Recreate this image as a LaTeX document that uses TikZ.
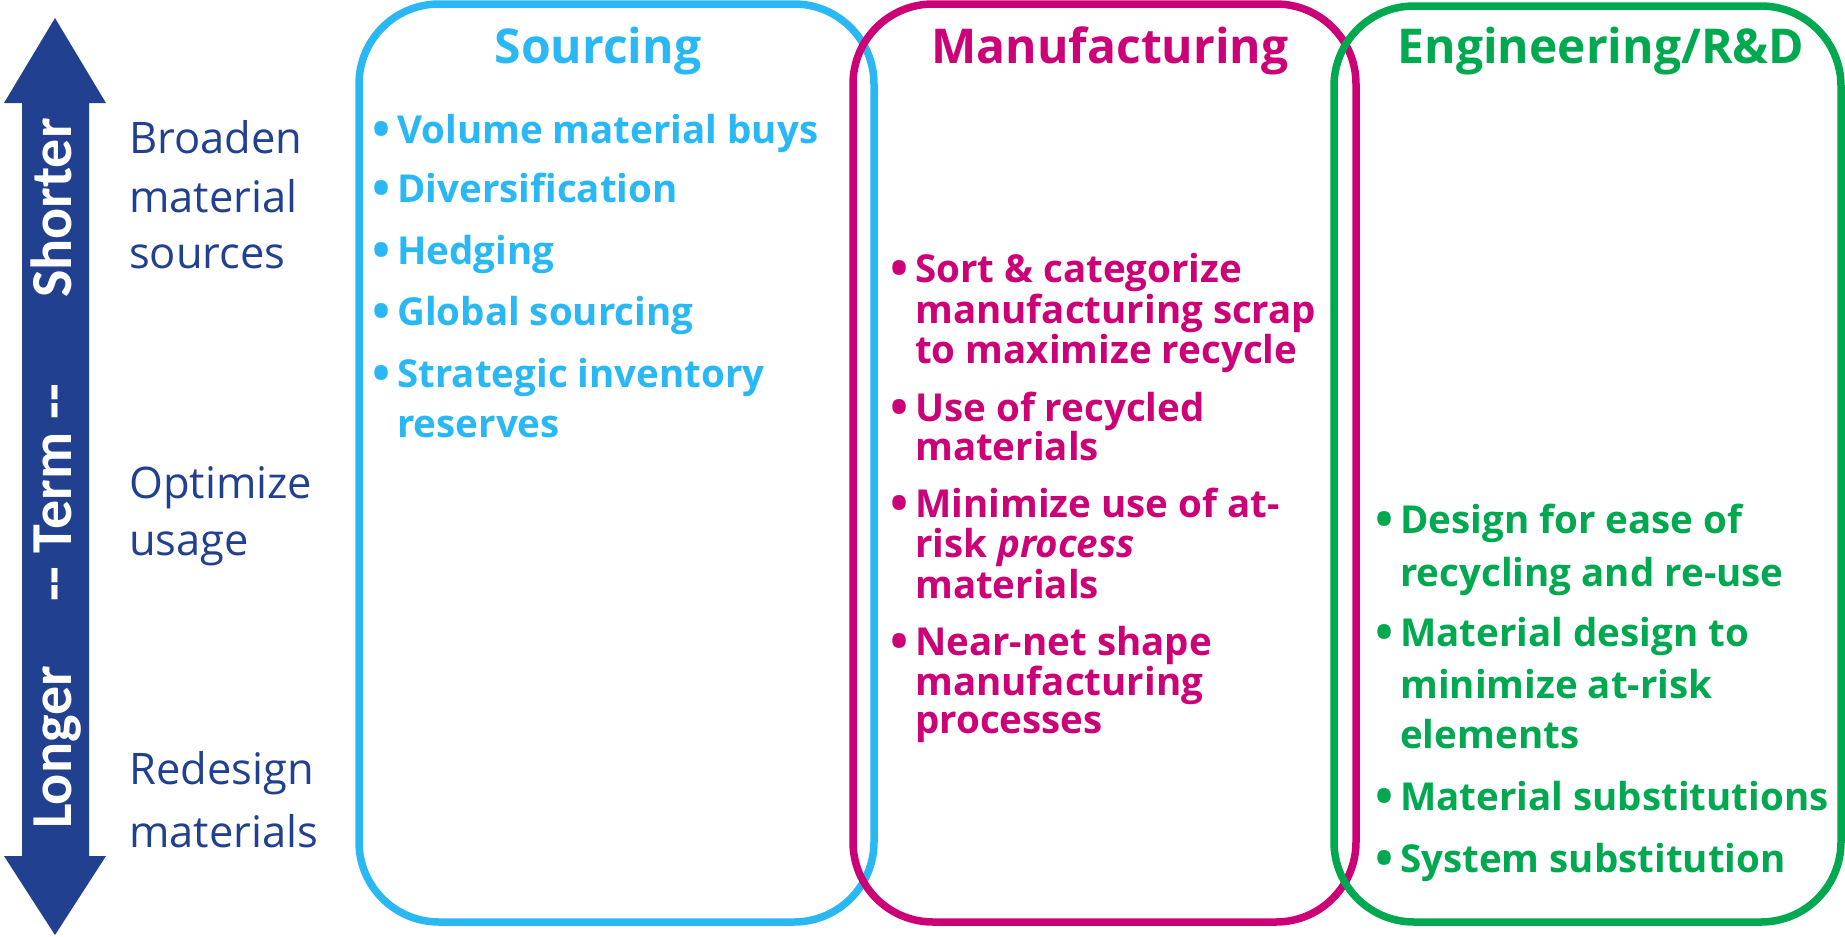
\documentclass[tikz,border=0pt]{standalone}
\usepackage{fontspec}
\setmainfont{Open Sans}
\newfontfamily\arrowfont{Carlito}
\definecolor{sblue}{RGB}{41,184,244}
\definecolor{mmag}{RGB}{204,0,119}
\definecolor{egreen}{RGB}{0,168,80}
\definecolor{dblue}{RGB}{33,64,143}
\tikzset{
  box/.style={line width=7.5pt, rounded corners=80pt},
  itemtext/.style={anchor=base west, inner sep=0pt, font=\fontsize{38.5}{38.5}\selectfont\bfseries},
  bul/.style={anchor=base, inner sep=0pt, yshift=-3pt, font=\fontsize{48}{48}\selectfont\bfseries},
  head/.style={anchor=base, inner sep=0pt, font=\fontsize{48}{48}\selectfont\bfseries},
  lab/.style={anchor=base west, inner sep=0pt, text=dblue, font=\fontsize{43.5}{43.5}\selectfont},
  arrtext/.style={rotate=90, anchor=base west, inner sep=0pt, text=white, font=\arrowfont\bfseries\fontsize{58}{58}\selectfont}
}
\begin{document}
\begin{tikzpicture}[x=1pt,y=-1pt]
\useasboundingbox (0,0) rectangle (1845,937);
% double arrow
\fill[dblue] (55,18) -- (106,103) -- (89,103) -- (89,856) -- (106,856) -- (55,935)
  -- (4,856) -- (22,856) -- (22,103) -- (4,103) -- cycle;
\node[arrtext] (longer) at (71,829) {Longer};
\node[arrtext] (term) at (71,602) {-\kern0pt- Term -\kern0pt-};
\node[arrtext] (shorter) at (71,298) {Shorter};
% left labels
\node[lab] (l1) at (129,153) {Broaden};
\node[lab] (l2) at (129,212) {material};
\node[lab] (l3) at (129,268) {sources};
\node[lab] (l4) at (129,498) {Optimize};
\node[lab] (l5) at (129,555) {usage};
\node[lab] (l6) at (129,784) {Redesign};
\node[lab] (l7) at (129,847) {materials};
% boxes
\draw[box, sblue] (359,4) rectangle (874,922);
\draw[box, mmag] (853,4) rectangle (1356,922);
\draw[box, egreen] (1334,6) rectangle (1841,922);
% headings
\node[head, text=sblue] (hs) at (598,63) {Sourcing};
\node[head, text=mmag] (hm) at (1110,63) {Manufacturing};
\node[head, text=egreen] (he) at (1601,63) {Engineering/R\&D};
% sourcing items
\begin{scope}[every node/.append style={text=sblue}]
\node[bul] (sb1) at (382,143) {•};
\node[itemtext] (s1) at (397,143) {Volume material buys};
\node[bul] (sb2) at (382,202) {•};
\node[itemtext] (s2) at (397,202) {Diversification};
\node[bul] (sb3) at (382,264) {•};
\node[itemtext] (s3) at (397,264) {Hedging};
\node[bul] (sb4) at (382,325) {•};
\node[itemtext] (s4) at (397,325) {Global sourcing};
\node[bul] (sb5) at (382,387) {•};
\node[itemtext] (s5) at (397,387) {Strategic inventory};
\node[itemtext] (s5b) at (397,437) {reserves};
\end{scope}
% manufacturing items
\begin{scope}[every node/.append style={text=mmag}]
\node[bul] (mb1) at (900,282) {•};
\node[itemtext] (m1) at (915,282) {Sort \& categorize};
\node[itemtext] (m1b) at (915,323) {manufacturing scrap};
\node[itemtext] (m1c) at (915,363) {to maximize recycle};
\node[bul] (mb2) at (900,421) {•};
\node[itemtext] (m2) at (915,421) {Use of recycled};
\node[itemtext] (m2b) at (915,460) {materials};
\node[bul] (mb3) at (900,517) {•};
\node[itemtext] (m3) at (915,517) {Minimize use of at-};
\node[itemtext] (m3b) at (915,557) {risk \textit{process}};
\node[itemtext] (m3c) at (915,598) {materials};
\node[bul] (mb4) at (900,655) {•};
\node[itemtext] (m4) at (915,655) {Near-net shape};
\node[itemtext] (m4b) at (915,695) {manufacturing};
\node[itemtext] (m4c) at (915,733) {processes};
\end{scope}
% engineering items
\begin{scope}[every node/.append style={text=egreen}]
\node[bul] (eb1) at (1385,533) {•};
\node[itemtext] (e1) at (1400,533) {Design for ease of};
\node[itemtext] (e1b) at (1400,586) {recycling and re-use};
\node[bul] (eb2) at (1385,646) {•};
\node[itemtext] (e2) at (1400,646) {Material design to};
\node[itemtext] (e2b) at (1400,698) {minimize at-risk};
\node[itemtext] (e2c) at (1400,748) {elements};
\node[bul] (eb3) at (1385,810) {•};
\node[itemtext] (e3) at (1400,810) {Material substitutions};
\node[bul] (eb4) at (1385,872) {•};
\node[itemtext] (e4) at (1400,872) {System substitution};
\end{scope}
\end{tikzpicture}
\end{document}
